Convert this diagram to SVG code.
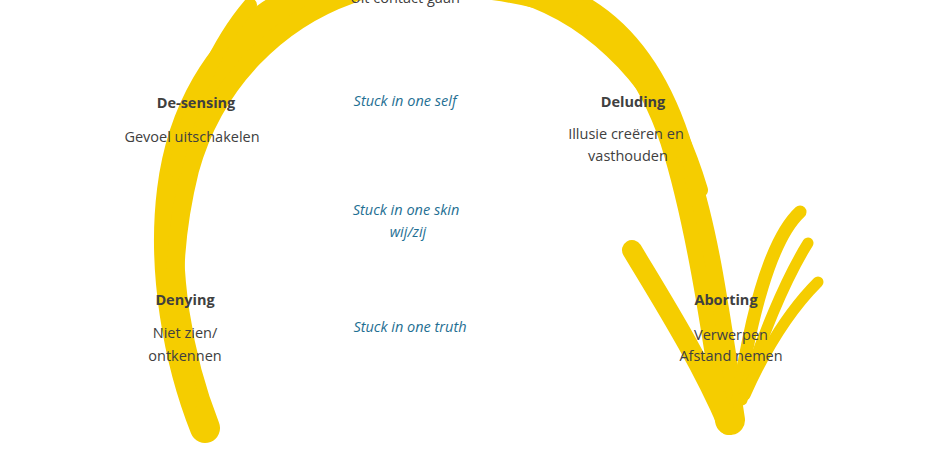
<svg xmlns="http://www.w3.org/2000/svg" width="940" height="450" viewBox="0 0 940 450">
<style>
.b{fill:none;stroke:#f5cd00;stroke-linecap:round;stroke-linejoin:round}
text{font-family:"Open Sans","Liberation Sans",sans-serif;font-size:14.5px;fill:#404040;text-anchor:middle}
.t{font-weight:bold}
.s{font-style:italic;fill:#1f6f93}
</style>
<rect width="940" height="450" fill="#fff"/>
<g id="connectors">
<path class="b" stroke-width="30" d="M205,428 C178,360 162,270 172,190 C182,110 220,50 270,15 C330,-25 470,-30 560,0 C620,25 655,80 675,140 C700,220 715,320 730,420"/>
<path class="b" stroke-width="18" d="M190,400 C170,330 170,250 190,170 C215,80 280,20 350,-5"/>
<path class="b" stroke-width="14" d="M175,170 C190,100 220,40 250,5"/>
<path class="b" stroke-width="16" d="M520,-5 C600,20 660,90 690,170 C710,230 720,300 735,400"/>
<path class="b" stroke-width="16" d="M560,-5 C620,30 670,90 700,190"/>
<path class="b" stroke-width="20" d="M632,250 C662,300 700,360 728,425"/>
<path class="b" stroke-width="13" d="M800,212 C770,240 750,320 738,400"/>
<path class="b" stroke-width="11" d="M808,243 C785,280 760,340 742,400"/>
<path class="b" stroke-width="11" d="M818,282 C790,310 765,350 745,395"/>
</g>
<g id="top"><text x="405" y="3">Uit contact gaan</text></g>
<g id="desensing"><text class="t" x="196" y="108">De-sensing</text><text x="192" y="142">Gevoel uitschakelen</text></g>
<g id="denying"><text class="t" x="185" y="305">Denying</text><text x="185" y="338">Niet zien/</text><text x="185" y="361">ontkennen</text></g>
<g id="deluding"><text class="t" x="633" y="107">Deluding</text><text x="626" y="139">Illusie creëren en</text><text x="628" y="161">vasthouden</text></g>
<g id="aborting"><text class="t" x="726" y="305">Aborting</text><text x="731" y="340">Verwerpen</text><text x="731" y="361">Afstand nemen</text></g>
<g id="stuck"><text class="s" x="405" y="106">Stuck in one self</text><text class="s" x="406" y="215">Stuck in one skin</text><text class="s" x="408" y="237">wij/zij</text><text class="s" x="410" y="332">Stuck in one truth</text></g>
</svg>
